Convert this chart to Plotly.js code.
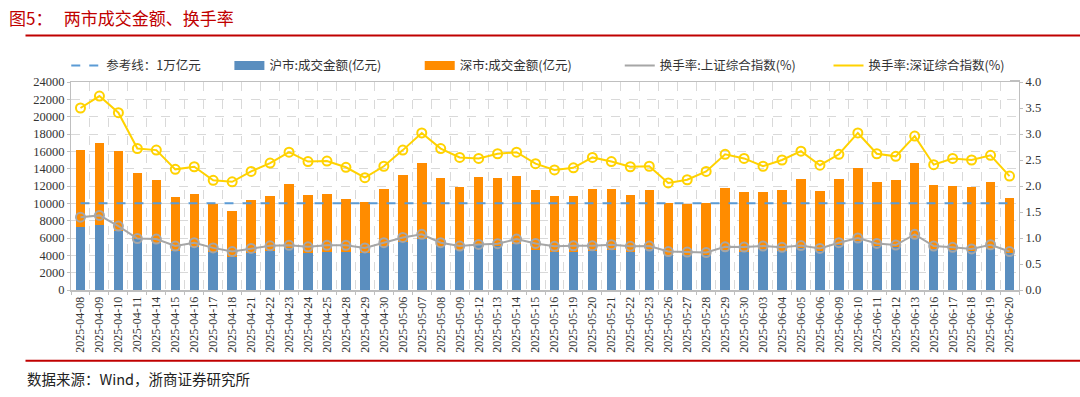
<!DOCTYPE html>
<html>
<head>
<meta charset="utf-8">
<script src="https://cdn.plot.ly/plotly-3.0.1.min.js"></script>
<style>
html,body{margin:0;padding:0;background:#fff;}
#chart{width:1080px;height:397px;}
</style>
</head>
<body>
<div id="chart"></div>
<script>
const DATES = ["2025-04-08","2025-04-09","2025-04-10","2025-04-11","2025-04-14","2025-04-15","2025-04-16","2025-04-17","2025-04-18","2025-04-21","2025-04-22","2025-04-23","2025-04-24","2025-04-25","2025-04-28","2025-04-29","2025-04-30","2025-05-06","2025-05-07","2025-05-08","2025-05-09","2025-05-12","2025-05-13","2025-05-14","2025-05-15","2025-05-16","2025-05-19","2025-05-20","2025-05-21","2025-05-22","2025-05-23","2025-05-26","2025-05-27","2025-05-28","2025-05-29","2025-05-30","2025-06-03","2025-06-04","2025-06-05","2025-06-06","2025-06-09","2025-06-10","2025-06-11","2025-06-12","2025-06-13","2025-06-16","2025-06-17","2025-06-18","2025-06-19","2025-06-20"];

// 沪市 成交金额 (亿元)
const SH_AMOUNT = [7300,7550,6780,5830,5410,4530,4910,4420,3810,4300,4500,4840,4300,4420,4380,4270,5070,5520,5900,5030,4650,5140,5070,5330,4610,4340,4340,4460,4650,4380,4690,4040,4040,4000,4610,4420,4690,4500,4880,4500,5180,5640,5070,4910,5980,4760,4650,4460,4720,4230];
// 深市 成交金额 (亿元)
const SZ_AMOUNT = [8900,9400,9260,7620,7320,6180,6180,5560,5300,6100,6360,7390,6710,6670,6140,5940,6550,7780,8770,7890,7240,7890,7810,7780,6900,6520,6480,7200,7050,6590,6820,5980,5870,6020,7200,6930,6660,7010,7960,6970,7660,8460,7430,7740,8690,7320,7390,7430,7780,6440];
// 换手率 上证综合指数 (%)
const SH_TURNOVER = [1.40,1.435,1.23,0.99,0.98,0.845,0.91,0.81,0.74,0.80,0.85,0.86,0.83,0.86,0.86,0.81,0.91,1.01,1.07,0.91,0.845,0.876,0.89,0.98,0.895,0.84,0.85,0.85,0.87,0.84,0.845,0.74,0.73,0.72,0.83,0.825,0.845,0.82,0.855,0.80,0.91,1.00,0.895,0.865,1.07,0.845,0.82,0.79,0.87,0.74];
// 换手率 深证综合指数 (%)
const SZ_TURNOVER = [3.50,3.73,3.41,2.72,2.69,2.32,2.37,2.11,2.08,2.28,2.44,2.65,2.47,2.48,2.36,2.16,2.38,2.69,3.02,2.72,2.55,2.53,2.62,2.65,2.43,2.31,2.35,2.55,2.47,2.37,2.38,2.06,2.12,2.28,2.61,2.53,2.38,2.50,2.67,2.40,2.61,3.02,2.62,2.57,2.96,2.41,2.53,2.50,2.59,2.19];
// 参考线 (亿元)
const REF_VALUE = 10000;
const REF_LINE = DATES.map(() => REF_VALUE);

const NAMES = ["参考线：1万亿元","沪市:成交金额(亿元)","深市:成交金额(亿元)","换手率:上证综合指数(%)","换手率:深证综合指数(%)"];
const COLORS = {ref: "#5b9bd5", sh: "#5a8ebf", sz: "#ff8c00", shT: "#a6a6a6", szT: "#ffd200"};

const serif = "Times New Roman, Liberation Serif, serif";
const cjk = "Noto Sans CJK SC, sans-serif";
const IS = "\u3000", NB = "\u00a0";
const LEGEND_PAD = [IS + NB + NB + NB + NB, IS + IS + NB + NB + NB, IS + IS + IS + NB + NB, IS + IS + NB, ""];

const traces = [
  {x: DATES, y: SH_AMOUNT, name: NAMES[1], type: "bar", showlegend: false,
   marker: {color: COLORS.sh}, yaxis: "y"},
  {x: DATES, y: SZ_AMOUNT, name: NAMES[2], type: "bar", showlegend: false,
   marker: {color: COLORS.sz}, yaxis: "y"},
  {x: DATES, y: REF_LINE, name: NAMES[0], type: "scatter", mode: "lines", showlegend: false,
   line: {color: COLORS.ref, width: 2, dash: "dash"}, yaxis: "y"},
  {x: DATES, y: SH_TURNOVER, name: NAMES[3], type: "scatter", mode: "lines+markers", showlegend: false,
   line: {color: COLORS.shT, width: 2},
   marker: {symbol: "circle-open", size: 9, color: COLORS.shT, line: {width: 2}}, yaxis: "y2"},
  {x: DATES, y: SZ_TURNOVER, name: NAMES[4], type: "scatter", mode: "lines+markers", showlegend: false,
   line: {color: COLORS.szT, width: 2},
   marker: {symbol: "circle-open", size: 9, color: COLORS.szT, line: {width: 2}}, yaxis: "y2"},
  // legend entries
  {x: [null], y: [null], name: NAMES[0] + LEGEND_PAD[0], type: "scatter", mode: "lines",
   line: {color: COLORS.ref, width: 2, dash: "dash"}},
  {x: [null], y: [null], name: NAMES[1] + LEGEND_PAD[1], type: "scatter", mode: "lines",
   line: {color: COLORS.sh, width: 9}},
  {x: [null], y: [null], name: NAMES[2] + LEGEND_PAD[2], type: "scatter", mode: "lines",
   line: {color: COLORS.sz, width: 9}},
  {x: [null], y: [null], name: NAMES[3] + LEGEND_PAD[3], type: "scatter", mode: "lines",
   line: {color: COLORS.shT, width: 2}},
  {x: [null], y: [null], name: NAMES[4] + LEGEND_PAD[4], type: "scatter", mode: "lines",
   line: {color: COLORS.szT, width: 2}}
];

const layout = {
  width: 1080, height: 397,
  margin: {l: 71, r: 61, t: 82, b: 107},
  paper_bgcolor: "#fff", plot_bgcolor: "#fff",
  barmode: "stack", bargap: 0.5,
  showlegend: true,
  legend: {orientation: "h", x: -0.005, xanchor: "left", y: 1.005, yanchor: "bottom",
           font: {family: cjk, size: 12.5, color: "#333"}, traceorder: "normal",
           itemwidth: 30},
  xaxis: {type: "category", tickangle: -90, tickson: "boundaries",
          tickfont: {family: serif, size: 12, color: "#333"},
          showgrid: true, gridcolor: "#d9d9d9", griddash: "dash", gridwidth: 1,
          showline: true, linecolor: "#bfbfbf", linewidth: 2, mirror: true,
          ticks: "outside", ticklen: 3, tickcolor: "#bfbfbf", range: [-0.5, 49.5]},
  yaxis: {range: [0, 24000], dtick: 2000, tick0: 0, tickformat: "d",
          tickfont: {family: serif, size: 12.5, color: "#333"},
          showgrid: true, gridcolor: "#d9d9d9", griddash: "dash", gridwidth: 1,
          showline: true, linecolor: "#bfbfbf", linewidth: 1, zeroline: false,
          ticks: "outside", ticklen: 3, tickcolor: "#bfbfbf"},
  yaxis2: {overlaying: "y", side: "right", range: [0, 4], dtick: 0.5, tickformat: ".1f",
           tickfont: {family: serif, size: 12.5, color: "#333"},
           showgrid: false, showline: true, linecolor: "#bfbfbf", linewidth: 1, zeroline: false,
           ticks: "outside", ticklen: 3, tickcolor: "#bfbfbf"},
  shapes: [
    {type: "line", xref: "paper", yref: "paper", x0: -0.048, x1: 1.07, y0: 1.224, y1: 1.224,
     line: {color: "#c00000", width: 2}},
    {type: "line", xref: "paper", yref: "paper", x0: -0.048, x1: 1.07, y0: -0.34, y1: -0.34,
     line: {color: "#c00000", width: 2}}
  ],
  annotations: [
    {text: "图5：   两市成交金额、换手率", xref: "paper", yref: "paper", x: -0.068, y: 1.31,
     xanchor: "left", yanchor: "middle", showarrow: false,
     font: {family: cjk, size: 17, color: "#c00000"}},
    {text: "数据来源：Wind，浙商证券研究所", xref: "paper", yref: "paper", x: -0.048, y: -0.425,
     xanchor: "left", yanchor: "middle", showarrow: false,
     font: {family: cjk, size: 14.5, color: "#222"}}
  ]
};

Plotly.newPlot("chart", traces, layout, {displayModeBar: false, staticPlot: true});
</script>
</body>
</html>
